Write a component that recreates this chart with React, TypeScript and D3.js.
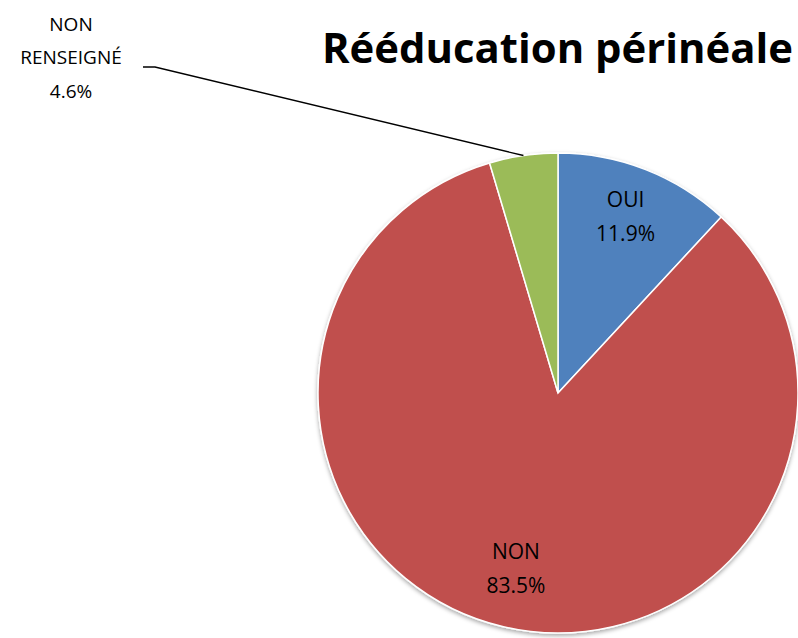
import React, { useEffect } from "react";
import * as d3 from "d3";

const categories = ["OUI", "NON", "NON RENSEIGNÉ"];
const values = [11.9, 83.5, 4.6];
const colors = ["#4F81BD", "#C0504D", "#9BBB59"];
const title = "Rééducation périnéale";

const W = 798;
const H = 638;
const cx = 558;
const cy = 393;
const R = 240;
const labelR = 185;
const FONT = "'Open Sans', 'Noto Sans', sans-serif";

export default function App() {
  useEffect(() => {
    document.body.style.margin = "0";
  }, []);

  const pie = d3
    .pie<number>()
    .sort(null)
    .value((d) => d)(values);
  const arc = d3.arc<d3.PieArcDatum<number>>().innerRadius(0).outerRadius(R);
  const labelArc = d3
    .arc<d3.PieArcDatum<number>>()
    .innerRadius(labelR)
    .outerRadius(labelR);
  const edgeArc = d3.arc<d3.PieArcDatum<number>>().innerRadius(R).outerRadius(R);

  const fmt = (v: number) => v.toFixed(1) + "%";

  const green = pie[2];
  const [ex, ey] = edgeArc.centroid(green);

  return (
    <svg width={W} height={H} style={{ display: "block" }}>
      <defs>
        <filter id="sh" x="-10%" y="-10%" width="120%" height="120%">
          <feDropShadow dx="0" dy="2" stdDeviation="2" floodColor="#000" floodOpacity="0.35" />
        </filter>
      </defs>
      <rect width={W} height={H} fill="#fff" />
      <text
        x={322}
        y={63}
        fontFamily={FONT}
        fontWeight="bold"
        fontSize={42}
        textLength={471}
        lengthAdjust="spacingAndGlyphs"
        fill="#000"
      >
        {title}
      </text>
      <g transform={`translate(${cx},${cy})`}>
        <g filter="url(#sh)">
          {pie.map((p, i) => (
            <path key={i} d={arc(p) || ""} fill={colors[i]} stroke="#fff" strokeWidth={1.5} />
          ))}
        </g>
        {pie.slice(0, 2).map((p, i) => {
          const [lx, ly] = labelArc.centroid(p);
          return (
            <text
              key={i}
              x={lx}
              y={ly}
              textAnchor="middle"
              fontFamily={FONT}
              fontSize={21}
              fill="#000"
            >
              <tspan x={lx} dy={-14}>{categories[i]}</tspan>
              <tspan x={lx} dy={34}>{fmt(values[i])}</tspan>
            </text>
          );
        })}
      </g>
      <polyline
        points={`${cx + ex},${cy + ey} 155,67 143,67`}
        fill="none"
        stroke="#000"
        strokeWidth={1.3}
      />
      <text textAnchor="middle" fontFamily={FONT} fontSize={19} fill="#000">
        <tspan x={71} y={31}>NON</tspan>
        <tspan x={71} y={64}>RENSEIGNÉ</tspan>
        <tspan x={71} y={98}>{fmt(values[2])}</tspan>
      </text>
    </svg>
  );
}
